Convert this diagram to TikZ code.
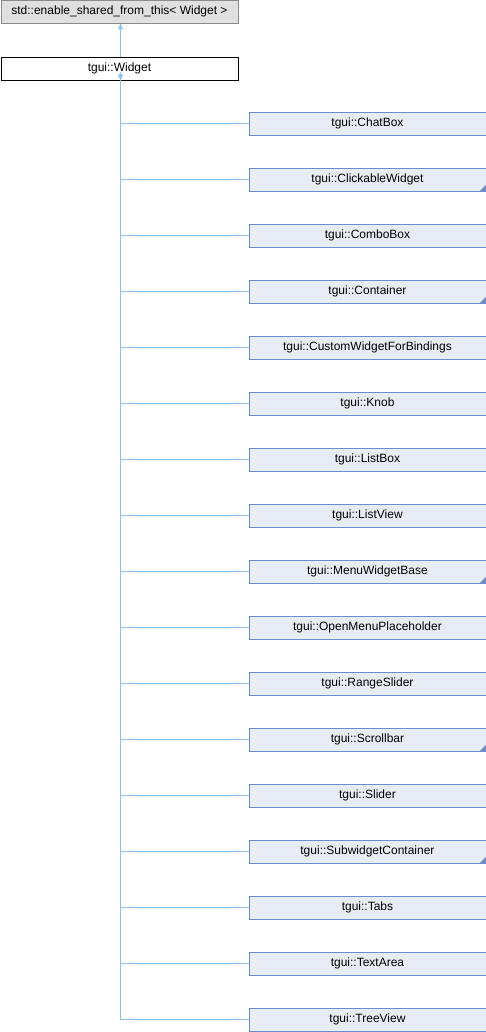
\documentclass[tikz,border=0pt]{standalone}
\usepackage{fontspec}
\setmainfont{Liberation Sans}
\usetikzlibrary{arrows.meta}
\definecolor{edgeblue}{HTML}{8CC3E6}
\definecolor{boxfill}{HTML}{E8ECF4}
\definecolor{boxline}{HTML}{6C8EC7}
\definecolor{extfill}{HTML}{E0E0E0}
\definecolor{extline}{HTML}{8C8C8C}
\tikzset{
  basebox/.style={line width=0.9pt, minimum width=237pt, minimum height=23pt,
              inner sep=0pt, font=\fontsize{12}{14}\selectfont, anchor=west},
  cls/.style={basebox, draw=boxline, fill=boxfill},
  extcls/.style={basebox, draw=extline, fill=extfill},
  curcls/.style={basebox, draw=black, fill=white},
  inh/.style={draw=edgeblue, line width=1pt},
  inharrow/.style={inh, -{Triangle[width=5pt,length=6pt,fill=edgeblue]}},
  more/.style={path picture={\fill[boxline] (path picture bounding box.south east) -- ++(-6pt,0) -- ++(6pt,6pt) -- cycle;}}
}
\begin{document}
\begin{tikzpicture}[x=1pt,y=-1pt]
\useasboundingbox (0,0) rectangle (486,1032);
% base classes
\node[extcls] (esft) at (0.5,11.5) {std::enable\_shared\_from\_this< Widget >};
\node[curcls] (widget) at (0.5,68.5) {tgui::Widget};
\draw[inharrow] (widget.north -| 120.5,0) -- (esft.south -| 120.5,0);
% derived classes
\foreach \name/\label/\style [count=\i from 0] in {
  c0/tgui::ChatBox/cls,
  c1/tgui::ClickableWidget/more,
  c2/tgui::ComboBox/cls,
  c3/tgui::Container/more,
  c4/tgui::CustomWidgetForBindings/cls,
  c5/tgui::Knob/cls,
  c6/tgui::ListBox/cls,
  c7/tgui::ListView/cls,
  c8/tgui::MenuWidgetBase/more,
  c9/tgui::OpenMenuPlaceholder/cls,
  c10/tgui::RangeSlider/cls,
  c11/tgui::Scrollbar/more,
  c12/tgui::Slider/cls,
  c13/tgui::SubwidgetContainer/more,
  c14/tgui::Tabs/cls,
  c15/tgui::TextArea/cls,
  c16/tgui::TreeView/cls}
{
  \node[cls,\style] (\name) at (248.5,{123.5+56*\i}) {\label};
  \draw[inh] (\name.west) -- (\name.west -| 120.5,0);
}
\coordinate (trunkend) at (c16.west -| 120.5,0);
\draw[inh] (trunkend) -- (widget.south -| 120.5,0);
\draw[inharrow] ([yshift=8pt]widget.south -| 120.5,0) -- (widget.south -| 120.5,0);
\end{tikzpicture}
\end{document}
